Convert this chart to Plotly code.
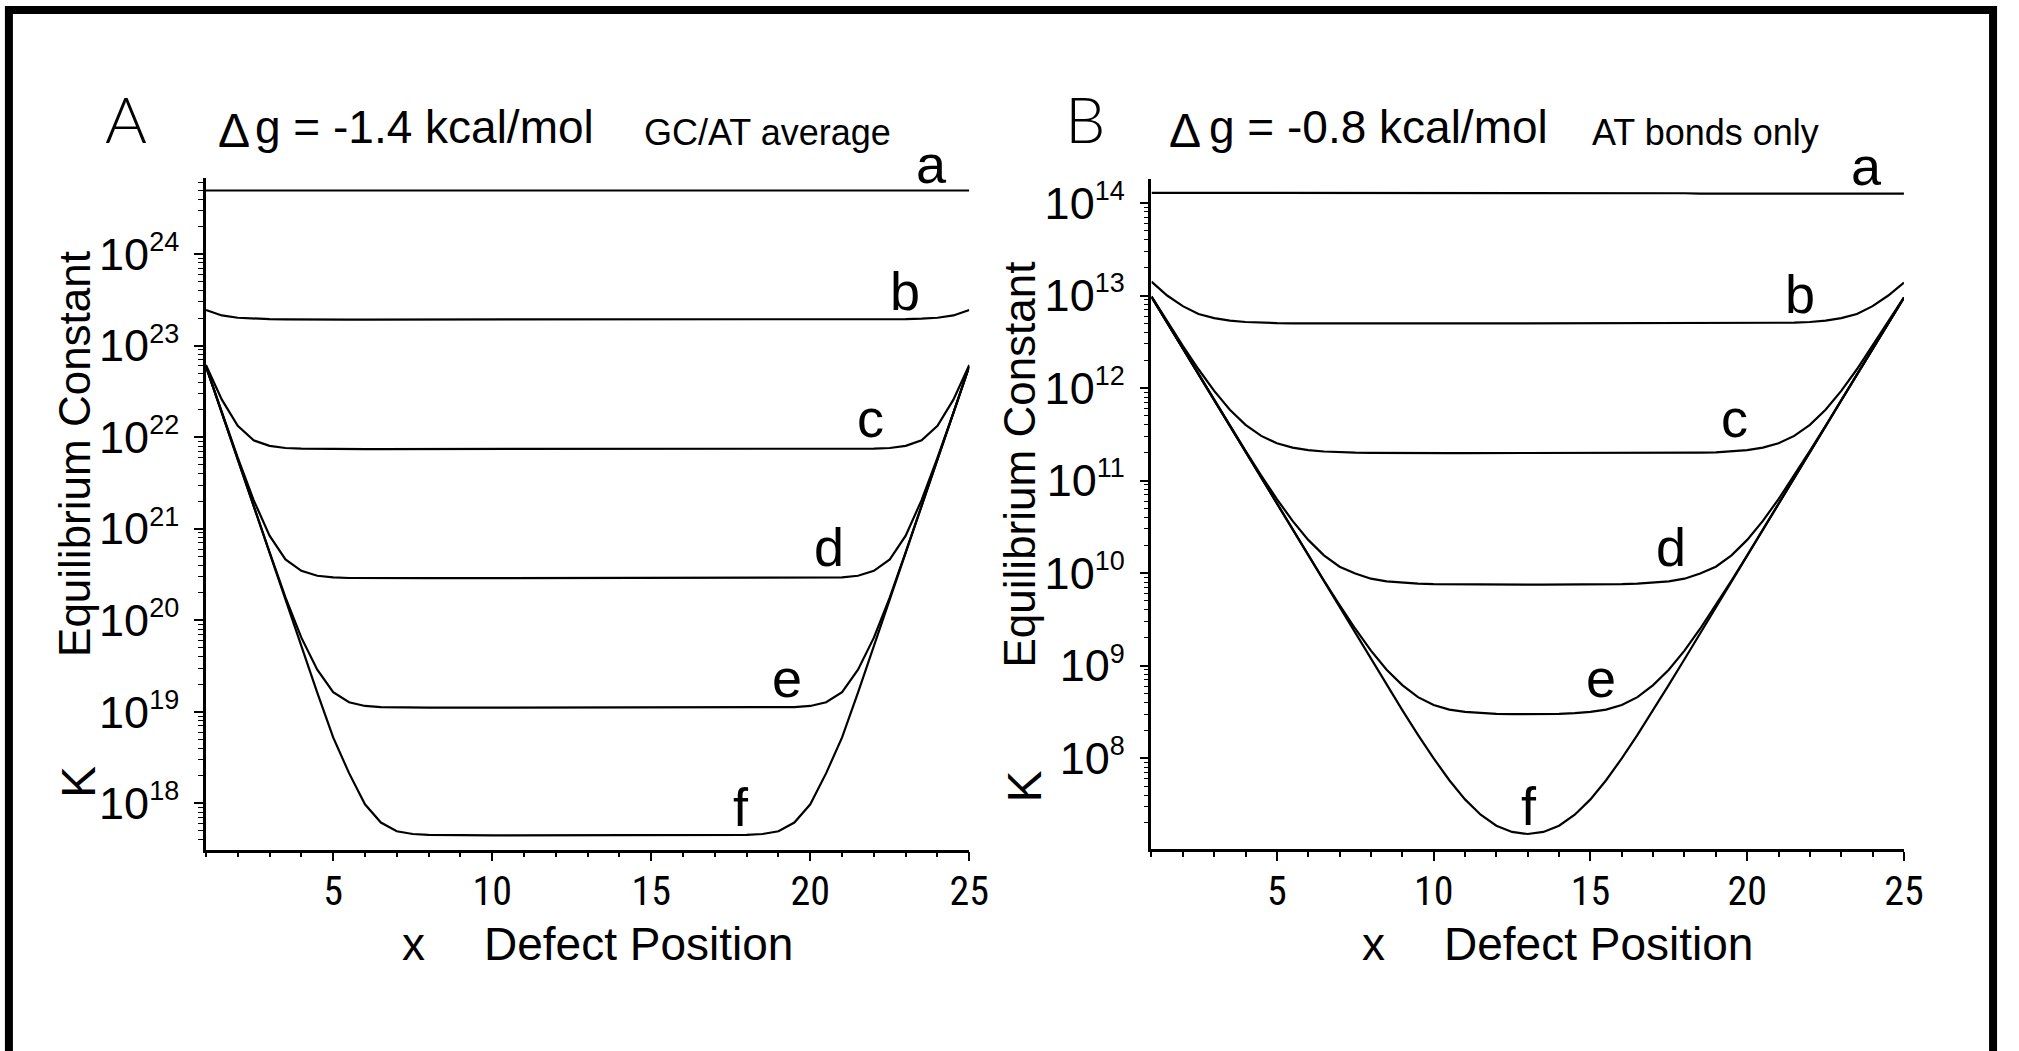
import plotly.graph_objects as go

W, H = 2019, 1051

# x grid (defect position)
X = [1, 1.5, 2, 2.5, 3, 3.5, 4, 4.5, 5, 5.5, 6, 6.5, 7, 7.5, 8, 8.5, 9, 9.5, 10, 10.5,
     11, 11.5, 12, 12.5, 13, 13.5, 14, 14.5, 15, 15.5, 16, 16.5, 17, 17.5, 18, 18.5,
     19, 19.5, 20, 20.5, 21, 21.5, 22, 22.5, 23, 23.5, 24, 24.5, 25]

# ---- Panel A (log10 K), dg = -1.4 kcal/mol ----
A_a = [24.695, 24.695, 24.695, 24.695, 24.695, 24.695, 24.695, 24.695, 24.695, 24.695,
       24.695, 24.695, 24.695, 24.695, 24.695, 24.695, 24.695, 24.695, 24.695, 24.695,
       24.695, 24.695, 24.695, 24.695, 24.695, 24.695, 24.695, 24.695, 24.695, 24.695,
       24.695, 24.695, 24.695, 24.695, 24.695, 24.695, 24.695, 24.695, 24.695, 24.695,
       24.695, 24.695, 24.695, 24.695, 24.695, 24.695, 24.695, 24.695, 24.695]
A_b = [23.39, 23.33, 23.305, 23.295, 23.29, 23.287, 23.285, 23.285, 23.285, 23.285,
       23.285, 23.285, 23.285, 23.285, 23.285, 23.285, 23.285, 23.285, 23.285, 23.285,
       23.285, 23.285, 23.285, 23.285, 23.285, 23.285, 23.285, 23.285, 23.285, 23.285,
       23.285, 23.285, 23.285, 23.285, 23.285, 23.285, 23.285, 23.285, 23.285, 23.285,
       23.285, 23.285, 23.285, 23.287, 23.29, 23.295, 23.305, 23.33, 23.39]
A_c = [22.79, 22.41, 22.125, 21.965, 21.905, 21.882, 21.875, 21.872, 21.87, 21.87,
       21.87, 21.87, 21.87, 21.87, 21.87, 21.87, 21.87, 21.87, 21.87, 21.87,
       21.87, 21.87, 21.87, 21.87, 21.87, 21.87, 21.87, 21.87, 21.87, 21.87,
       21.87, 21.87, 21.87, 21.87, 21.87, 21.87, 21.87, 21.87, 21.87, 21.87,
       21.87, 21.872, 21.875, 21.882, 21.905, 21.965, 22.125, 22.41, 22.79]
A_d = [22.775, 22.265, 21.777, 21.313, 20.925, 20.665, 20.54, 20.486, 20.468, 20.462,
       20.46, 20.46, 20.46, 20.46, 20.46, 20.46, 20.46, 20.46, 20.46, 20.46,
       20.46, 20.46, 20.46, 20.46, 20.46, 20.46, 20.46, 20.46, 20.46, 20.46,
       20.46, 20.46, 20.46, 20.46, 20.46, 20.46, 20.46, 20.46, 20.46, 20.462,
       20.468, 20.486, 20.54, 20.665, 20.925, 21.313, 21.777, 22.265, 22.775]
A_e = [22.775, 22.265, 21.755, 21.245, 20.744, 20.25, 19.81, 19.46, 19.215, 19.105,
       19.064, 19.052, 19.047, 19.045, 19.045, 19.045, 19.045, 19.045, 19.045, 19.045,
       19.045, 19.045, 19.045, 19.045, 19.045, 19.045, 19.045, 19.045, 19.045, 19.045,
       19.045, 19.045, 19.045, 19.045, 19.045, 19.045, 19.047, 19.052, 19.064, 19.105,
       19.215, 19.46, 19.81, 20.25, 20.744, 21.245, 21.755, 22.265, 22.775]
A_f = [22.775, 22.265, 21.755, 21.245, 20.735, 20.226, 19.716, 19.21, 18.72, 18.33,
       17.99, 17.79, 17.695, 17.665, 17.655, 17.652, 17.65, 17.65, 17.65, 17.65,
       17.65, 17.65, 17.65, 17.65, 17.65, 17.65, 17.65, 17.65, 17.65, 17.65,
       17.65, 17.65, 17.65, 17.652, 17.655, 17.665, 17.695, 17.79, 17.99, 18.33,
       18.72, 19.21, 19.716, 20.226, 20.735, 21.245, 21.755, 22.265, 22.775]

# ---- Panel B (log10 K), dg = -0.8 kcal/mol ----
B_a = [14.11, 14.11, 14.11, 14.11, 14.11, 14.11, 14.11, 14.11, 14.11, 14.11,
       14.11, 14.11, 14.11, 14.11, 14.11, 14.11, 14.11, 14.11, 14.11, 14.11,
       14.105, 14.105, 14.105, 14.105, 14.105, 14.105, 14.105, 14.105, 14.105, 14.105,
       14.105, 14.105, 14.105, 14.105, 14.105, 14.10, 14.10, 14.10, 14.10, 14.10,
       14.10, 14.10, 14.10, 14.10, 14.10, 14.10, 14.10, 14.10, 14.10]
B_b = [13.15, 13.0, 12.885, 12.80, 12.755, 12.729, 12.714, 12.706, 12.702, 12.70,
       12.699, 12.698, 12.698, 12.698, 12.698, 12.698, 12.698, 12.698, 12.698, 12.698,
       12.698, 12.698, 12.698, 12.698, 12.698, 12.698, 12.698, 12.698, 12.698, 12.698,
       12.698, 12.698, 12.698, 12.698, 12.698, 12.698, 12.698, 12.698, 12.699, 12.70,
       12.702, 12.706, 12.714, 12.729, 12.755, 12.80, 12.885, 13.0, 13.14]
B_c = [12.99, 12.72, 12.456, 12.203, 11.969, 11.765, 11.602, 11.483, 11.404, 11.357,
       11.329, 11.314, 11.306, 11.302, 11.30, 11.298, 11.297, 11.297, 11.297, 11.297,
       11.297, 11.297, 11.297, 11.297, 11.297, 11.297, 11.297, 11.297, 11.297, 11.297,
       11.297, 11.297, 11.297, 11.298, 11.30, 11.302, 11.306, 11.314, 11.329, 11.357,
       11.404, 11.483, 11.602, 11.765, 11.969, 12.203, 12.456, 12.72, 12.98]
B_d = [12.985, 12.705, 12.426, 12.147, 11.869, 11.593, 11.321, 11.055, 10.80, 10.565,
       10.359, 10.192, 10.069, 9.995, 9.94, 9.91, 9.894, 9.886, 9.881, 9.879,
       9.877, 9.876, 9.876, 9.876, 9.876, 9.876, 9.876, 9.876, 9.877, 9.879,
       9.881, 9.886, 9.894, 9.91, 9.94, 9.995, 10.069, 10.192, 10.359, 10.565,
       10.80, 11.055, 11.321, 11.593, 11.869, 12.147, 12.426, 12.705, 12.975]
B_e = [12.985, 12.705, 12.425, 12.145, 11.865, 11.585, 11.306, 11.026, 10.747, 10.469,
       10.193, 9.92, 9.654, 9.399, 9.163, 8.956, 8.79, 8.66, 8.575, 8.525,
       8.50, 8.487, 8.48, 8.476, 8.475, 8.476, 8.48, 8.487, 8.50, 8.525,
       8.575, 8.66, 8.79, 8.956, 9.163, 9.399, 9.654, 9.92, 10.193, 10.469,
       10.747, 11.026, 11.306, 11.585, 11.865, 12.145, 12.425, 12.705, 12.975]
B_f = [12.985, 12.705, 12.425, 12.145, 11.865, 11.585, 11.305, 11.025, 10.745, 10.465,
       10.185, 9.906, 9.626, 9.347, 9.069, 8.793, 8.52, 8.253, 7.998, 7.762,
       7.555, 7.389, 7.271, 7.203, 7.181, 7.203, 7.271, 7.389, 7.555, 7.762,
       7.998, 8.253, 8.52, 8.793, 9.069, 9.347, 9.626, 9.906, 10.185, 10.465,
       10.745, 11.025, 11.305, 11.585, 11.865, 12.145, 12.425, 12.705, 12.975]

CURVE_NAMES = ["a", "b", "c", "d", "e", "f"]
A_series = [A_a, A_b, A_c, A_d, A_e, A_f]
B_series = [B_a, B_b, B_c, B_d, B_e, B_f]

X_TICKS = [5, 10, 15, 20, 25]
A_DECADES = [18, 19, 20, 21, 22, 23, 24]
B_DECADES = [8, 9, 10, 11, 12, 13, 14]

FONT = "Liberation Sans, Arial, Helvetica, sans-serif"
NARROW = "Liberation Sans Narrow, Arial Narrow, Roboto Condensed, Liberation Sans, sans-serif"
LIGHT = "Lato, Liberation Sans, sans-serif"


def px(x):
    return x / W


def py(y):
    return 1 - y / H


fig = go.Figure()
for name, vals in zip(CURVE_NAMES, A_series):
    fig.add_trace(go.Scatter(x=X, y=[10 ** v for v in vals], mode="lines", name="A " + name,
                             line=dict(color="black", width=2.2), xaxis="x", yaxis="y",
                             showlegend=False, hoverinfo="skip"))
for name, vals in zip(CURVE_NAMES, B_series):
    fig.add_trace(go.Scatter(x=X, y=[10 ** v for v in vals], mode="lines", name="B " + name,
                             line=dict(color="black", width=2.2), xaxis="x2", yaxis="y2",
                             showlegend=False, hoverinfo="skip"))


def xaxis_cfg(domain, anchor):
    return dict(domain=domain, anchor=anchor, range=[1, 25], showgrid=False, zeroline=False,
                showline=True, linecolor="black", linewidth=2.5,
                ticks="outside", ticklen=9, tickwidth=2, tickcolor="black",
                tickmode="array", tickvals=X_TICKS, ticktext=[str(v) for v in X_TICKS],
                tickfont=dict(family=NARROW, size=40, color="black"), ticklabelstandoff=-4,
                minor=dict(ticks="outside", ticklen=5, tickwidth=1.5, tickcolor="black",
                           tickmode="linear", tick0=0, dtick=1, showgrid=False))


def yaxis_cfg(domain, anchor, rng, decades):
    minor_vals = [m * 10.0 ** e for e in range(decades[0] - 1, decades[-1] + 1) for m in range(2, 10)]
    return dict(domain=domain, anchor=anchor, type="log", range=rng, showgrid=False, zeroline=False,
                showline=True, linecolor="black", linewidth=2.5,
                ticks="outside", ticklen=9, tickwidth=2, tickcolor="black",
                tickmode="array", tickvals=[10.0 ** d for d in decades],
                ticktext=["10<sup><span style='font-size:27px'>%d</span></sup>" % d for d in decades],
                tickfont=dict(family=FONT, size=45, color="black"), ticklabelstandoff=6,
                minor=dict(ticks="outside", ticklen=5, tickwidth=1.2, tickcolor="black",
                           tickmode="array", tickvals=minor_vals, showgrid=False))


ann = []


def text(t, x, y, size, xanchor="center", yanchor="middle", angle=0, family=FONT, weight=None):
    f = dict(family=family, size=size, color="black")
    if weight is not None:
        f["weight"] = weight
    ann.append(dict(text=t, x=px(x), y=py(y), xref="paper", yref="paper", showarrow=False,
                    xanchor=xanchor, yanchor=yanchor, textangle=angle, font=f))


# Panel A headings
text("A", 127, 116, 64, family=LIGHT, weight=300)
text("Δ", 236, 128, 48)
text("g = -1.4 kcal/mol", 256, 124, 46, xanchor="left")
text("GC/AT average", 648, 130, 36, xanchor="left")
# Panel B headings
text("B", 1096, 116, 64, family=LIGHT, weight=300)
text("Δ", 1197, 128, 48)
text("g = -0.8 kcal/mol", 1219, 124, 46, xanchor="left")
text("AT bonds only", 1606, 130, 36, xanchor="left")

# Axis titles
for xc, ye, yk in [(75, 452, 781), (1030, 463, 786)]:
    text("Equilibrium Constant", xc, ye, 44, angle=-90)
    text("K", xc + 5, yk, 48, angle=-90)
for xx, xd in [(418, 645), (1387, 1614)]:
    text("x", xx, 944, 46)
    text("Defect Position", xd, 944, 46)

# Curve letters
A_lab = [(941, 161), (914, 289), (879, 416), (837, 546), (795, 677), (748, 806)]
B_lab = [(1885, 163), (1818, 292), (1752, 416), (1688, 546), (1617, 677), (1544, 805)]
for name, (x, y) in zip(CURVE_NAMES, A_lab):
    text(name, x, y, 54)
for name, (x, y) in zip(CURVE_NAMES, B_lab):
    text(name, x, y, 54)

fig.update_layout(
    width=W, height=H, autosize=False,
    margin=dict(l=0, r=0, t=0, b=0, pad=0),
    paper_bgcolor="white", plot_bgcolor="white",
    showlegend=False,
    xaxis=xaxis_cfg([208 / W, 979 / W], "y"),
    yaxis=yaxis_cfg([1 - 849 / H, 1 - 175 / H], "x", [17.495, 24.837], A_DECADES),
    xaxis2=xaxis_cfg([1163 / W, 1923 / W], "y2"),
    yaxis2=yaxis_cfg([1 - 848.5 / H, 1 - 176.6 / H], "x2", [7.018, 14.258], B_DECADES),
    annotations=ann,
    shapes=[dict(type="rect", xref="paper", yref="paper", x0=9 / W, x1=2013 / W,
                 y0=1 - 7 / H, y1=-0.05, line=dict(color="black", width=8),
                 fillcolor="rgba(0,0,0,0)", layer="above")],
)

fig.write_html("out.html", config={"displayModeBar": False})
